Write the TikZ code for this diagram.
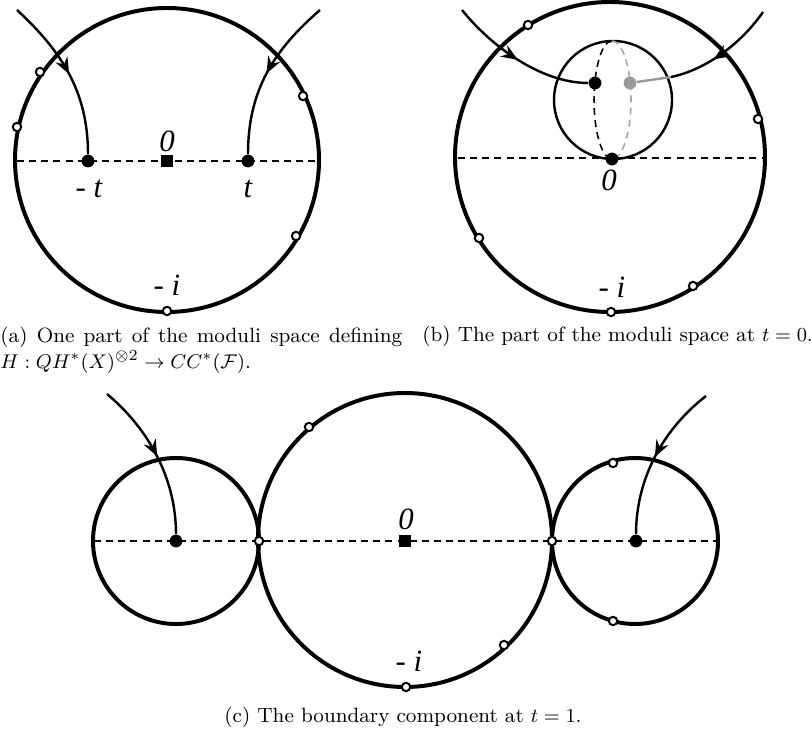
\documentclass[tikz,border=0pt]{standalone}
\usepackage{amsmath}
\usepackage{amssymb}
\usepackage{fontspec}
\newfontfamily\lblfont{Liberation Serif}
\usetikzlibrary{arrows.meta,decorations.markings}

\begin{document}
\begin{tikzpicture}[x=0.453pt, y=-0.453pt,
  rim/.style={line width=1.8pt},
  axis/.style={line width=0.7pt, dash pattern=on 3.2pt off 2.3pt},
  flow/.style={line width=1.1pt, postaction={decorate},
    decoration={markings, mark=at position #1 with {\arrow{Stealth[length=7.5pt,width=6pt,inset=2.5pt]}}}},
  flow/.default=0.5,
  puncture/.style={circle, draw, fill=white, line width=0.9pt, inner sep=0pt, minimum size=3.8pt},
  marked/.style={circle, fill=#1, inner sep=0pt, minimum size=5.8pt},
  marked/.default=black,
  origin/.style={fill=black, inner sep=0pt, minimum size=5.4pt},
  lbl/.style={font=\lblfont\itshape\fontsize{14}{16}\selectfont, inner sep=0pt},
  subcap/.style={font=\fontsize{9.35}{11.6}\selectfont, inner sep=0pt}]
\useasboundingbox (0,0) rectangle (812,736);

\draw[rim] (167,160) circle[radius=152];
\draw[axis] (17,161) -- (317,161);
\node[origin] (oa) at (167,161) {};
\node[marked] (mta) at (88,161) {};
\node[marked] (pta) at (248,161) {};
\foreach \p [count=\k] in {(40,72),(17,127),(303,96),(296,236),(167,311)}
  \node[puncture] (pa\k) at \p {};
\coordinate (sa) at (17,10);
\coordinate (ea) at (320,10);
\draw[flow] (sa) .. controls (60,50) and (88,90) .. (mta);
\draw[flow] (ea) .. controls (274,50) and (248,90) .. (pta);
\node[lbl] (la0) at (167,141) {0};
\node[lbl] (lamt) at (89,189) {- t};
\node[lbl] (lapt) at (248,189) {t};
\node[lbl] (lai) at (167,285) {- i};

\draw[rim] (610,157) circle[radius=155];
\draw[axis] (458,158) -- (762,158);
\draw[line width=1.1pt] (613,100) circle[radius=59];
\draw[axis] (612,41) arc[start angle=270, end angle=90, x radius=18, y radius=59];
\draw[axis, gray!70] (612,41) arc[start angle=-90, end angle=90, x radius=19, y radius=59];
\node[marked] (ob) at (612,159) {};
\node[marked] (lb) at (595,83) {};
\node[marked=gray!80] (gb) at (630,83) {};
\foreach \p [count=\k] in {(528,25),(758,119),(479,238),(693,286),(611,312)}
  \node[puncture] (pb\k) at \p {};
\coordinate (sb) at (462,10);
\coordinate (eb) at (763,12);
\coordinate (cb) at (671,77);
\draw[flow] (sb) .. controls (490,45) and (540,83) .. (lb);
\draw[flow=0.6] (eb) .. controls (740,45) and (705,70) .. (cb);
\draw[line width=1.1pt, gray!80] (cb) -- (gb);
\node[lbl] (lb0) at (609,180) {0};
\node[lbl] (lbi) at (612,287) {- i};

\draw[rim] (405,540) circle[radius=147];
\draw[rim] (176,541) circle[radius=83];
\draw[rim] (635,541) circle[radius=83];
\draw[axis] (94,541) -- (718,541);
\node[origin] (oc) at (405,541) {};
\node[marked] (lc) at (176,541) {};
\node[marked] (rc) at (636,541) {};
\foreach \p [count=\k] in {(259,541),(552,541),(309,427),(504,645),(406,687),(613,463),(613,621)}
  \node[puncture] (pc\k) at \p {};
\coordinate (sc) at (107,394);
\coordinate (ec) at (706,396);
\draw[flow] (sc) .. controls (150,430) and (176,480) .. (lc);
\draw[flow] (ec) .. controls (662,430) and (636,480) .. (rc);
\node[lbl] (lc0) at (406,519) {0};
\node[lbl] (lci) at (409,661) {- i};

\node[subcap, anchor=north west, text width=182pt, align=justify] (capa) at (0,327)
  {(a) One part of the moduli space defining
   $H : QH^*(X)^{\otimes 2} \to CC^*(\mathcal{F})$.};
\node[subcap, anchor=base west] (capb) at (422,342)
  {(b) The part of the moduli space at $t = 0$.};
\node[subcap, anchor=base] (capc) at (403,722)
  {(c) The boundary component at $t = 1$.};
\end{tikzpicture}
\end{document}
